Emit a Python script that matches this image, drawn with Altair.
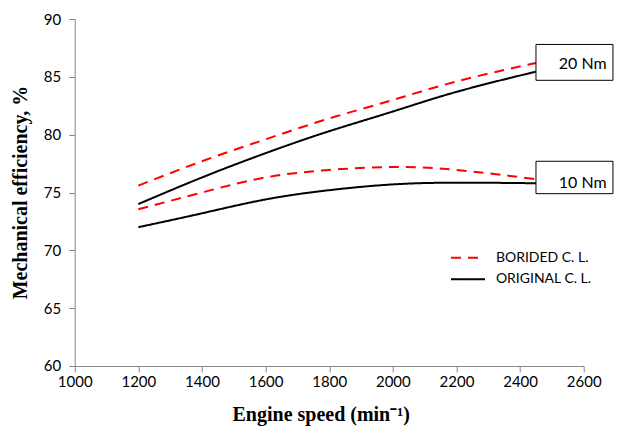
import altair as alt
import pandas as pd

# ---- data ----
speeds = [1200, 1400, 1600, 1800, 2000, 2200, 2450]
borided_20 = [75.6, 77.7, 79.6, 81.4, 83.0, 84.6, 86.2]
original_20 = [74.0, 76.3, 78.4, 80.3, 82.0, 83.7, 85.45]
borided_10 = [73.55, 75.0, 76.3, 76.95, 77.2, 76.95, 76.15]
original_10 = [72.0, 73.2, 74.4, 75.2, 75.7, 75.85, 75.8]

series_names = ["BORIDED C. L.", "ORIGINAL C. L."]
series_colors = ["#FF0000", "#000000"]

box_labels = ["20 Nm", "10 Nm"]
box_x_start = [2450, 2450]
box_x_end = [2692, 2692]
box_y_top = [87.8, 77.7]
box_y_bottom = [84.7, 74.9]
box_text_x = [2597, 2597]
box_text_y = [86.1, 75.85]

x_ticks = [1000, 1200, 1400, 1600, 1800, 2000, 2200, 2400, 2600]
y_ticks = [60, 65, 70, 75, 80, 85, 90]

rows = []
for name, torque, vals in [
    (series_names[0], "20", borided_20),
    (series_names[1], "20", original_20),
    (series_names[0], "10", borided_10),
    (series_names[1], "10", original_10),
]:
    for s, v in zip(speeds, vals):
        rows.append({"speed": s, "eff": v, "series": name, "curve": name + torque})
df = pd.DataFrame(rows)

boxes = pd.DataFrame({
    "label": box_labels, "x1": box_x_start, "x2": box_x_end,
    "y1": box_y_top, "y2": box_y_bottom, "tx": box_text_x, "ty": box_text_y,
})

xscale = alt.Scale(domain=[1000, 2600], nice=False, zero=False)
yscale = alt.Scale(domain=[60, 90], nice=False, zero=False)

axis_common = dict(
    domainColor="#878787", tickColor="#878787", tickSize=6, grid=False,
    labelFlush=False,
    labelFont="Lato", labelFontSize=15, labelColor="#000000",
    titleFont="Liberation Serif", titleFontWeight="bold", titleFontSize=20,
    titleColor="#000000",
)

lines = alt.Chart(df).mark_line(strokeWidth=2, interpolate="natural").encode(
    x=alt.X("speed:Q", scale=xscale,
            axis=alt.Axis(values=x_ticks, format="d", title="Engine speed (min\u207b\u00b9)",
                          labelPadding=3, titleX=246, titleY=55,
                          titleBaseline="alphabetic", **axis_common)),
    y=alt.Y("eff:Q", scale=yscale,
            axis=alt.Axis(values=y_ticks, title="Mechanical efficiency, %",
                          labelPadding=8, titleX=-48, titleY=173,
                          titleBaseline="alphabetic", **axis_common)),
    color=alt.Color("series:N", scale=alt.Scale(domain=series_names, range=series_colors),
                    legend=alt.Legend(title=None, orient="none", legendX=383.8, legendY=229.2,
                                      symbolType="M-2,0H2", symbolSize=289,
                                      symbolStrokeWidth=2, symbolFillColor="transparent",
                                      labelFont="Lato",
                                      labelFontSize=14, labelColor="#000000",
                                      labelOffset=18.4, rowPadding=4.6, padding=0)),
    strokeDash=alt.StrokeDash("series:N",
                              scale=alt.Scale(domain=series_names, range=[[10, 7], [1, 0]]),
                              legend=None),
    detail="curve:N",
)

rects = alt.Chart(boxes).mark_rect(fill="white", stroke="#000000", strokeWidth=1).encode(
    x=alt.X("x1:Q", scale=xscale), x2="x2:Q",
    y=alt.Y("y1:Q", scale=yscale), y2="y2:Q",
)

texts = alt.Chart(boxes).mark_text(font="Lato", fontSize=16, color="#000000",
                                   align="center", baseline="middle").encode(
    x=alt.X("tx:Q", scale=xscale), y=alt.Y("ty:Q", scale=yscale), text="label:N",
)

chart = alt.layer(lines, rects, texts).properties(
    width=509, height=347,
    autosize=alt.AutoSizeParams(type="none"),
    padding={"left": 66.7, "top": 11, "right": 30, "bottom": 60},
).configure_view(stroke=None)

chart.save("out.html", embed_options={"renderer": "svg", "actions": False})
